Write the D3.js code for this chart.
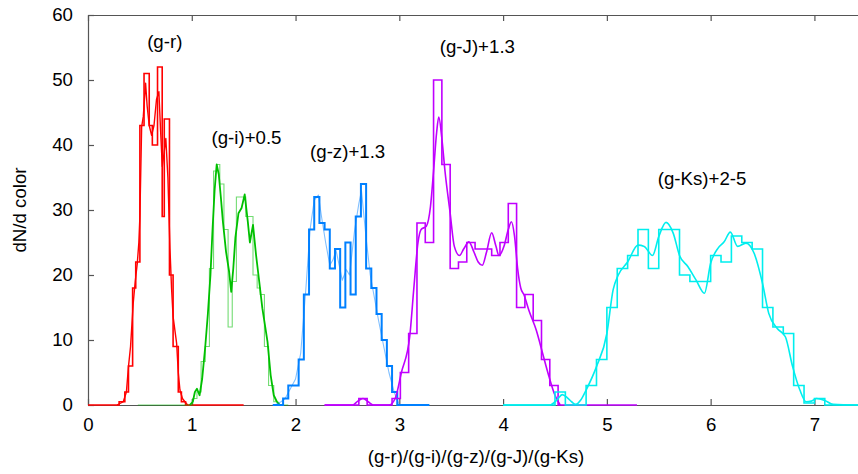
<!DOCTYPE html>
<html>
<head>
<meta charset="utf-8">
<script src="https://cdn.jsdelivr.net/npm/d3@7"></script>
<style>
  body { margin: 0; background: #fff; }
  svg { display: block; font-family: "Liberation Sans", Arial, sans-serif; }
</style>
</head>
<body>
<svg id="chart" width="858" height="474"></svg>
<script>
// histogram bin edges + counts, and the overlaid density curve, per colour
const redEdges  = [0.00, 0.30, 0.355, 0.39, 0.43, 0.46, 0.50, 0.54, 0.59, 0.62, 0.67, 0.715, 0.735, 0.785, 0.82, 0.87, 0.90, 0.94, 1.50];
const redCounts = [0, 0.5, 2, 6, 18, 22, 43, 51, 43, 40, 52, 29, 44, 20, 9, 2, 0.5, 0];
const redCurve  = [[0.28,0],[0.34,0.5],[0.37,2],[0.39,5.9],[0.41,9],[0.436,15.7],[0.455,19],[0.475,21.8],[0.49,25],[0.50,29],
  [0.517,42.8],[0.533,44.4],[0.555,49.5],[0.57,46],[0.59,43],[0.613,41.5],[0.636,43],[0.66,47],[0.683,48.2],[0.70,42],
  [0.716,36.7],[0.735,39],[0.75,41],[0.77,35],[0.79,24],[0.805,18],[0.82,13.6],[0.854,9.5],[0.87,5],[0.886,2.3],
  [0.91,1],[0.934,0.5],[0.96,0]];

const greenEdges  = [0.48, 1.01, 1.05, 1.09, 1.13, 1.17, 1.21, 1.24, 1.27, 1.31, 1.35, 1.39, 1.43, 1.52, 1.59, 1.63, 1.66, 1.70, 1.74, 1.79, 1.83, 1.93];
const greenCounts = [0, 1, 2, 6.7, 9, 21, 36, 37, 34, 27, 12, 19, 32, 29, 20, 18, 17, 9, 3, 0.5, 0];
const greenCurve  = [[0.98,0],[1.01,0.5],[1.03,2],[1.05,2.5],[1.075,1.5],[1.10,4],[1.13,9],[1.155,14],[1.18,20],[1.20,27],
  [1.22,33],[1.24,37],[1.26,35.5],[1.28,32],[1.30,28.2],[1.33,23.6],[1.36,20.5],[1.38,17.4],[1.40,21],[1.42,25.7],
  [1.45,29.5],[1.48,30.3],[1.51,32.4],[1.54,28.2],[1.56,25],[1.59,27.7],[1.62,23],[1.65,19],[1.68,14.9],[1.73,9.7],
  [1.76,4.6],[1.79,1.5],[1.82,0.5],[1.85,0]];

const blueEdges  = [1.78, 1.88, 1.93, 1.98, 2.03, 2.08, 2.13, 2.18, 2.23, 2.28, 2.33, 2.38, 2.43, 2.48, 2.53, 2.58, 2.63, 2.68, 2.73, 2.78, 2.83, 2.88, 2.93, 2.98, 3.29];
const blueCounts = [0, 1, 3, 3, 7, 17, 27, 32, 28, 27, 21, 24, 15, 25, 17, 29, 34, 21, 18, 14, 10, 6, 2, 0];
const blueCurve  = [[1.80,0],[1.86,0.5],[1.90,1],[1.95,2.5],[2.00,4],[2.05,8],[2.10,18],[2.14,27],[2.18,31.5],[2.22,32.3],
  [2.25,29],[2.29,25],[2.33,21.5],[2.36,22.3],[2.39,23.8],[2.43,20.8],[2.45,19.2],[2.49,20.8],[2.52,20],[2.57,27],
  [2.61,31],[2.635,33],[2.68,25.7],[2.72,20],[2.76,16.5],[2.80,13],[2.85,9],[2.90,5],[2.95,2],[3.00,0]];

const purpleEdges  = [2.28, 2.61, 2.69, 2.93, 3.01, 3.09, 3.17, 3.25, 3.33, 3.41, 3.49, 3.57, 3.65, 3.73, 3.81, 3.89, 3.97, 4.05, 4.13, 4.21, 4.29, 4.37, 4.45, 4.53, 5.29];
const purpleCounts = [0, 1, 0, 1, 5, 11, 28, 25, 50, 37, 21, 22, 25, 24, 24, 23, 25, 31, 15, 17, 13, 7, 3, 0];
const purpleCurve  = [[2.28,0],[2.55,0],[2.60,0.6],[2.65,1],[2.70,0.5],[2.75,0],[2.90,0],[2.96,1],[3.02,5],[3.10,10.5],
  [3.14,18],[3.18,25],[3.21,27],[3.26,27.5],[3.30,30.5],[3.33,36],[3.36,42],[3.38,44.3],[3.41,41],[3.44,36],
  [3.49,29.5],[3.53,24.4],[3.58,23],[3.62,24],[3.67,25.1],[3.72,23.5],[3.76,22],[3.80,21.5],[3.84,23.5],[3.89,26.5],
  [3.93,24.5],[3.96,23],[4.01,24.5],[4.05,27],[4.08,28.2],[4.11,26],[4.14,21],[4.17,18],[4.20,17],[4.25,14.5],
  [4.32,11.5],[4.38,8],[4.44,4.5],[4.50,1.5],[4.55,0]];

const cyanEdges  = [4.00, 4.50, 4.60, 4.80, 4.90, 5.00, 5.10, 5.20, 5.30, 5.40, 5.50, 5.70, 5.80, 6.00, 6.10, 6.20, 6.30, 6.40, 6.50, 6.60, 6.70, 6.80, 6.90, 7.00, 7.10, 7.42];
const cyanCounts = [0, 2, 0, 3, 7, 15, 21, 23, 27, 21, 27, 20, 19, 23, 22, 26, 25, 24, 15, 12, 11, 3, 0.3, 1, 0];
const cyanCurve  = [[4.00,0],[4.45,0],[4.52,0.8],[4.57,1.6],[4.62,1.1],[4.66,0.5],[4.70,0.1],[4.75,0.8],[4.80,2.3],[4.90,5.9],
  [5.00,11],[5.06,17.7],[5.11,20],[5.20,22],[5.30,24.6],[5.36,24.4],[5.44,23],[5.50,25.9],[5.57,28.1],[5.64,26.4],
  [5.70,23],[5.78,21.3],[5.86,19.2],[5.94,17.2],[6.00,21.8],[6.07,24.1],[6.13,25.1],[6.19,26.6],[6.26,24.4],[6.34,24.9],
  [6.42,23.3],[6.50,18.7],[6.56,14.1],[6.64,11.8],[6.72,10.5],[6.79,5.9],[6.86,2.3],[6.92,0.5],[6.97,0.6],[7.02,1.0],
  [7.10,0.7],[7.18,0.1],[7.42,0]];

const xTicks = [0, 1, 2, 3, 4, 5, 6, 7];
const yTicks = [0, 10, 20, 30, 40, 50, 60];

const labels = [
  { text: "(g-r)",      x: 0.57, y: 55.0 },
  { text: "(g-i)+0.5",  x: 1.19, y: 40.2 },
  { text: "(g-z)+1.3",  x: 2.14, y: 38.0 },
  { text: "(g-J)+1.3",  x: 3.39, y: 54.2 },
  { text: "(g-Ks)+2-5", x: 5.49, y: 33.8 }
];

const series = [
  { edges: redEdges,    counts: redCounts,    curve: redCurve,    color: "#ff0000", hw: 1.6, hop: 1,   cw: 1.4, cop: 1,   smooth: false },
  { edges: greenEdges,  counts: greenCounts,  curve: greenCurve,  color: "#00c000", hw: 1.1, hop: 0.55, cw: 1.8, cop: 1,  smooth: false },
  { edges: blueEdges,   counts: blueCounts,   curve: blueCurve,   color: "#0080ff", hw: 2.0, hop: 1,   cw: 1.1, cop: 0.5, smooth: false },
  { edges: purpleEdges, counts: purpleCounts, curve: purpleCurve, color: "#c000ff", hw: 1.6, hop: 1,   cw: 1.6, cop: 1,   smooth: true },
  { edges: cyanEdges,   counts: cyanCounts,   curve: cyanCurve,   color: "#00eeee", hw: 1.6, hop: 1,   cw: 1.6, cop: 1,   smooth: true }
];

const plotL = 88, plotR = 858, plotT = 15, plotB = 405;
const axisColor = "#555";
const fontSize = "18.67px";

const x = d3.scaleLinear().domain([0, 7.42]).range([plotL, plotR]);
const y = d3.scaleLinear().domain([0, 60]).range([plotB, plotT]);

const svg = d3.select("#chart");

svg.append("defs").append("clipPath").attr("id", "plot")
  .append("rect")
  .attr("x", plotL).attr("y", plotT - 2)
  .attr("width", plotR - plotL).attr("height", plotB - plotT + 4);

// axes
svg.append("g")
  .attr("transform", `translate(0,${plotB})`)
  .call(d3.axisBottom(x).tickValues(xTicks).tickFormat(d3.format("d"))
    .tickSize(-6).tickSizeOuter(0).tickPadding(13));

svg.append("g")
  .attr("transform", `translate(0,${plotT})`)
  .call(d3.axisTop(x).tickValues(xTicks).tickFormat("")
    .tickSize(-6).tickSizeOuter(0));

svg.append("g")
  .attr("transform", `translate(${plotL},0)`)
  .call(d3.axisLeft(y).tickValues(yTicks).tickFormat(d3.format("d"))
    .tickSize(-6).tickSizeOuter(0).tickPadding(15));

svg.selectAll(".domain, .tick line").attr("stroke", axisColor).attr("stroke-width", 1.2);
svg.selectAll(".tick text").attr("fill", "#000").style("font-size", fontSize);

const plot = svg.append("g").attr("clip-path", "url(#plot)");

const stepLine = d3.line()
  .x(d => x(d[0])).y(d => y(d[1]))
  .curve(d3.curveStepAfter);

const jagged = d3.line().x(d => x(d[0])).y(d => y(d[1]));
const smooth = d3.line().x(d => x(d[0])).y(d => y(d[1])).curve(d3.curveMonotoneX);

series.forEach(s => {
  const pts = s.counts.map((c, i) => [s.edges[i], c]);
  pts.push([s.edges[s.edges.length - 1], s.counts[s.counts.length - 1]]);

  plot.append("path")
    .attr("d", stepLine(pts))
    .attr("fill", "none")
    .attr("stroke", s.color)
    .attr("stroke-opacity", s.hop)
    .attr("stroke-width", s.hw);

  plot.append("path")
    .attr("d", (s.smooth ? smooth : jagged)(s.curve))
    .attr("fill", "none")
    .attr("stroke", s.color)
    .attr("stroke-opacity", s.cop)
    .attr("stroke-width", s.cw)
    .attr("stroke-linejoin", "round");
});

// labels inside plot
svg.append("g").selectAll("text")
  .data(labels)
  .join("text")
  .attr("x", d => x(d.x))
  .attr("y", d => y(d.y))
  .style("font-size", fontSize)
  .attr("fill", "#000")
  .text(d => d.text);

// axis titles
svg.append("text")
  .attr("x", 476).attr("y", 463)
  .attr("text-anchor", "middle")
  .style("font-size", fontSize)
  .text("(g-r)/(g-i)/(g-z)/(g-J)/(g-Ks)");

svg.append("text")
  .attr("transform", "translate(26,210) rotate(-90)")
  .attr("text-anchor", "middle")
  .style("font-size", fontSize)
  .text("dN/d color");
</script>
</body>
</html>
